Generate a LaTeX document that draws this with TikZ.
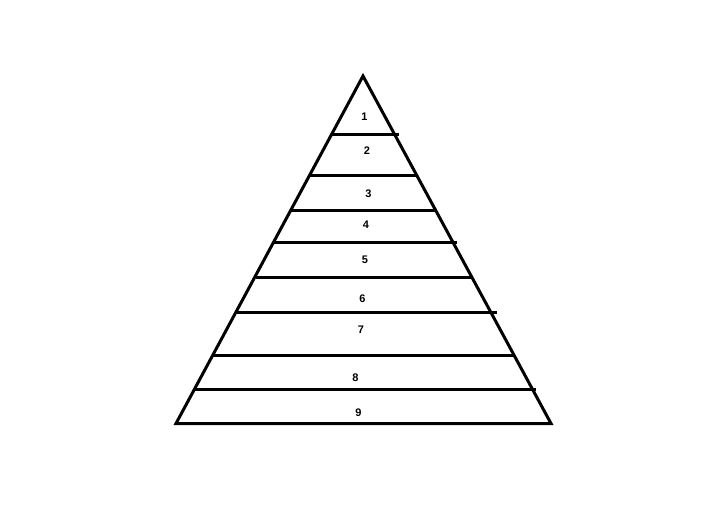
\documentclass[tikz,border=0pt]{standalone}
\usepackage{fontspec}
\setmainfont{Liberation Sans}
\begin{document}
\begin{tikzpicture}
        [x=1pt,y=-1pt,line width=3pt,every node/.style={font=\fontsize{11}{13}\selectfont\bfseries,inner sep=0pt}]
        \useasboundingbox (0,0) rectangle (717,510);
        % apex and base
        \coordinate  (A) at      (363,76);
        \coordinate  (BL) at     (176,423.5);
        \coordinate  (BR) at     (551,423.5);

        % left ends
        \coordinate  (L1) at     (332,134.5);
        \coordinate  (L2) at     (309,176);
        \coordinate  (L3) at     (291,211);
        \coordinate  (L4) at     (273.5,243);
        \coordinate  (L5) at     (256,277.5);
        \coordinate  (L6) at     (236,313);
        \coordinate  (L7) at     (213,355.5);
        \coordinate  (L8) at     (195,389.5);

        % right ends
        \coordinate  (R1) at     (399,134.5);
        \coordinate  (R2) at     (417.5,176);
        \coordinate  (R3) at     (437,211);
        \coordinate  (R4) at     (457,243);
        \coordinate  (R5) at     (472,277.5);
        \coordinate  (R6) at     (497,313);
        \coordinate  (R7) at     (515,355.5);
        \coordinate  (R8) at     (536,389.5);

        % labels
        \node  (N1) at      (364.5,117)       {1};
        \node  (N2) at      (367,151)         {2};
        \node  (N3) at      (368.5,193.5)     {3};
        \node  (N4) at      (366,225)         {4};
        \node  (N5) at      (365,259.5)       {5};
        \node  (N6) at      (362.5,298.5)     {6};
        \node  (N7) at      (361,330)         {7};
        \node  (N8) at      (355.5,377.5)     {8};
        \node  (N9) at      (358.5,412.5)     {9};

        \draw[line join=miter]
        (BL) -- (A) -- (BR) -- cycle;

        \draw
        (L1)    --    (R1)
        (L2)    --    (R2)
        (L3)    --    (R3)
        (L4)    --    (R4)
        (L5)    --    (R5)
        (L6)    --    (R6)
        (L7)    --    (R7)
        (L8)    --    (R8);
    \end{tikzpicture}
\end{document}
